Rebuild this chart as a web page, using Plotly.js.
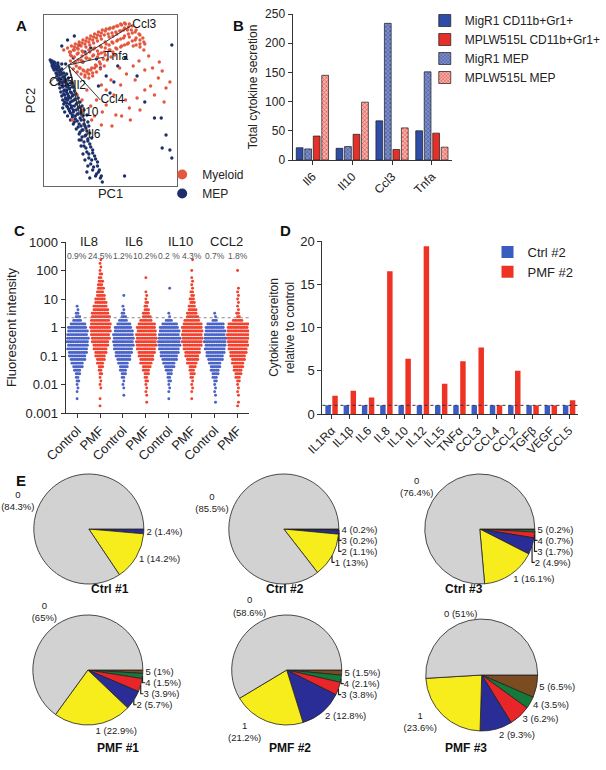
<!DOCTYPE html>
<html>
<head>
<meta charset="utf-8">
<script src="https://cdn.plot.ly/plotly-3.0.1.min.js"></script>
<style>
  html, body { margin: 0; padding: 0; background: #fff; }
  #chart { width: 606px; height: 770px; }
</style>
</head>
<body>
<div id="chart"></div>
<script>
// ---- Panel A: PCA scores [PC1, PC2] (arbitrary units) ----
const myeloidScores = [
  [20,136],[24,138],[28,140],[32,142],[36,144],[40,146],[44,148],[48,150],[52,152],[56,154],[60,156],[64,157],[68,158],[72,159],[76,160],[80,161],[84,162],[88,162],
  [26,134],[30,136],[34,138],[38,140],[42,142],[46,144],[50,146],[54,148],[58,150],[62,151],[66,152],[70,153],[74,154],[78,155],[82,156],[86,156],[90,156],[94,154],[98,152],[102,148],[104,142],
  [28,130],[34,132],[40,134],[46,136],[52,138],[58,140],[64,142],[70,144],[76,146],[82,148],[88,149],[94,146],[99,142],
  [32,124],[38,126],[44,128],[50,130],[56,132],[62,134],[68,136],[74,138],[80,140],[86,142],[92,140],
  [27,125],[27,131],[27,134],[31,123],[31,129],[31,136],[31,139],[35,126],[35,133],[35,137],[35,141],[39,124],[39,130],[39,135],[39,143],
  [43,128],[43,132],[43,139],[43,145],[47,127],[47,134],[47,141],[47,147],[51,131],[51,137],[51,143],[51,149],[55,129],[55,135],[55,145],[55,151],
  [59,133],[59,139],[59,147],[59,153],[63,131],[63,138],[63,144],[63,155],[67,136],[67,141],[67,149],[67,157],[71,134],[71,143],[71,150],[71,158],
  [75,137],[75,145],[75,152],[75,160],[79,139],[79,147],[79,155],[79,162],[83,141],[83,150],[83,158],[83,163],[87,143],[87,152],[87,159],
  [91,145],[91,153],[91,160],[95,141],[95,148],[95,156],[99,139],[99,146],[99,151],[103,136],[103,144],
  [30,117],[34,114],[38,112],[42,109],[46,108],[50,110],[54,114],[58,117],[62,120],[33,120],[37,118],[41,115],[45,116],[49,118],[53,121],[57,124],[61,127],[65,126],[69,129],[73,131],
  [36,118],[40,116],[44,114],[48,116],[52,118],[42,111],[46,112],[50,113],[54,120],[58,122],
  [119,124],[126,98],[114,91],[99,76],[84,86],[74,71],[64,81],[54,86],[49,66],[59,61],[39,86],[44,96],[94,106],[104,116],[79,101],[69,106],[64,96],[59,101],[34,91],[39,76],[29,66],[89,66],[104,96],[72,91],
  [78,118],[85,112],[92,120],[98,125],[108,130],[112,118],[118,108],[122,115],[96,88],[88,78],[70,60],[80,70],[60,74],[52,70],[48,80],[110,100],[130,104],[124,84]
];
const mepScores = [
  [6,126],[7,124],[8,125],[9,122],[8,120],[10,121],[11,118],[12,120],[10,116],[13,116],[14,118],[12,113],[15,114],[16,116],[13,110],[16,111],[18,112],[14,106],[17,107],[19,109],[21,110],
  [15,102],[18,103],[20,104],[22,106],[16,98],[19,99],[22,100],[24,102],[17,94],[20,95],[23,96],[26,98],[18,90],[21,91],[24,92],[27,94],[19,86],[22,87],[25,88],[29,90],
  [20,82],[23,83],[27,84],[31,86],[19,78],[24,79],[28,80],[33,82],[21,74],[26,75],[30,76],[35,78],[24,70],[29,71],[34,72],[38,73],[27,66],[32,67],[37,68],[41,66],
  [30,62],[36,62],[42,60],[33,57],[39,56],[44,55],[36,52],[42,50],[38,46],[45,47],[41,40],[47,42],[44,34],[50,36],[46,28],[52,30],[48,22],[55,24],[50,16],[56,14],[53,10],[58,8],[60,4],[47,8],[44,14],
  [8,122],[9,118],[11,123],[12,117],[14,121],[13,112],[15,119],[17,114],[15,108],[18,117],[20,113],[17,104],[21,107],[23,112],[19,100],[22,104],[25,108],[21,96],[24,99],[27,103],
  [20,92],[23,94],[26,97],[29,99],[22,88],[25,90],[28,93],[31,95],[21,84],[24,86],[27,88],[30,91],[33,92],[23,80],[26,82],[29,85],[32,87],[35,88],[25,77],[28,78],[31,80],[34,83],[37,84],
  [27,73],[30,74],[33,76],[36,79],[39,80],[29,69],[32,70],[35,72],[38,75],[41,76],[31,64],[34,65],[38,66],[40,70],[44,71],[35,59],[38,60],[41,62],[45,64],[37,54],[40,56],[43,58],[46,60],
  [39,49],[43,51],[47,53],[41,44],[45,45],[49,48],[43,38],[48,39],[46,32],[50,33],[49,26],[53,27],[51,19],[55,20],[54,12],[57,16],[59,10],[45,20],[42,26],[40,32],[38,40],[36,46],
  [10,124],[14,123],[18,122],[22,122],[18,140],[24,146],[31,150],[36,141],[42,134],[48,138],[54,127],[58,118],[64,110],[56,100],[68,93],[72,104],[76,120],[84,128],[30,128],[40,124],
  [132,141],[114,68],[121,68],[126,51],[122,38],[130,36],[132,28],[83,10],[96,110],[104,84]
];
const loadNames = ['Ccl3', 'Tnfa', 'Ccl4', 'Il10', 'Il6', 'Ccl5', 'Il2'];
const loadPC1 = [91, 62, 58, 36, 45, 5, 30];
const loadPC2 = [161, 129, 86, 73, 51, 103, 100];
const loadOrigin = [25, 121];

// ---- Panel B: total cytokine secretion ----
const cytokinesB = ['Il6', 'Il10', 'Ccl3', 'Tnfa'];
const migr1Myeloid = [21, 20, 67, 50];
const migr1Mep = [19, 23, 234, 151];
const mplMyeloid = [41, 44, 18, 46];
const mplMep = [145, 99, 55, 22];

// ---- Panel C: cells per 1/8-decade bin, first bin = 0.001 ----
const swarmCytokines = ['IL8', 'IL6', 'IL10', 'CCL2'];
const swarmGroups = ['Control', 'PMF', 'Control', 'PMF', 'Control', 'PMF', 'Control', 'PMF'];
const pctAbove = ['0.9%', '24.5%', '1.2%', '10.2%', '0.2 %', '4.3%', '0.7%', '1.8%'];
const il8Ctrl  = [0,0,0,0,1,0,1,1, 1,2,2,3,4,6,7,9, 10,11,12,12,13,13,12,12, 11,9,5,3,2,1,1,0];
const il8Pmf   = [0,0,1,0,1,0,0,1, 1,1,1,2,2,3,4,5, 6,7,8,9,10,11,11,12, 12,12,11,11,10,9,8,7, 6,5,4,4,3,3,2,2, 1,1,1,1];
const il6Ctrl  = [0,0,0,0,0,1,0,1, 1,1,2,3,4,5,6,8, 9,10,11,12,12,12,12,11, 10,8,5,3,2,1,1,0, 0,1];
const il6Pmf   = [0,0,0,1,0,1,1,1, 1,2,2,3,4,5,7,8, 9,10,11,12,12,12,12,11, 11,10,7,5,4,3,2,2, 1,1,1,0,0,0,1];
const il10Ctrl = [0,0,0,0,1,0,1,1, 1,2,2,3,4,6,7,9, 10,11,12,13,13,13,12,12, 11,9,4,1,1,0,0,0, 0,0,0,1];
const il10Pmf  = [0,0,0,0,1,0,1,1, 1,1,2,3,3,4,6,7, 8,9,10,11,12,12,12,12, 12,11,9,7,6,5,4,3, 3,2,2,1,1,1,1,0, 1,0,0,1];
const ccl2Ctrl = [0,0,0,1,0,1,1,1, 1,2,3,4,5,6,7,9, 10,11,12,12,13,13,12,12, 11,10,3,1,1];
const ccl2Pmf  = [0,0,1,1,0,1,1,1, 1,2,3,4,5,6,7,8, 9,10,11,12,12,13,13,13, 12,12,6,2,2,1,1,1, 1,1,1,1,0,0,0,0, 1];
const positiveCut = 2.2;

// ---- Panel D: secretion relative to control ----
const cytokinesD = ['IL1R\u03b1', 'IL1\u03b2', 'IL6', 'IL8', 'IL10', 'IL12', 'IL15', 'TNF\u03b1', 'CCL3', 'CCL4', 'CCL2', 'TGF\u03b2', 'VEGF', 'CCL5'];
const ctrl2Rel = [1, 1, 1, 1, 1, 1, 1, 1, 1, 1, 1, 1, 1, 1];
const pmf2Rel = [2.1, 2.7, 1.9, 16.5, 6.4, 19.4, 3.5, 6.1, 7.7, 1.0, 5.0, 1.0, 1.0, 1.6];

// ---- Panel E: % of cells secreting n cytokines ----
const nSecreted = ['0', '1', '2', '3', '4', '5'];
const pieNames = ['Ctrl #1', 'Ctrl #2', 'Ctrl #3', 'PMF #1', 'PMF #2', 'PMF #3'];
const ctrl1Pct = [84.3, 14.2, 1.4];
const ctrl2Pct = [85.5, 13, 1.1, 0.2, 0.2];
const ctrl3Pct = [76.4, 16.1, 4.9, 1.7, 0.7, 0.2];
const pmf1Pct = [65, 22.9, 5.7, 3.9, 1.5, 1];
const pmf2Pct = [58.6, 21.2, 12.8, 3.8, 2.1, 1.5];
const pmf3Pct = [51, 23.6, 9.3, 6.2, 3.5, 6.5];

// ---------------- layout helpers ----------------
const W = 606, H = 770;
const px = p => p / W;
const py = p => 1 - p / H;
const FONT = 'Liberation Sans, Arial, Helvetica, sans-serif';
const red = '#e4573f', navy = '#1d2f6b';
const axisCol = '#333';

const traces = [];

// Panel A
traces.push({
  type: 'scatter', mode: 'markers', x: mepScores.map(d => d[0]), y: mepScores.map(d => d[1]),
  xaxis: 'x', yaxis: 'y', marker: { size: 3.4, color: navy }, showlegend: false, hoverinfo: 'skip'
});
traces.push({
  type: 'scatter', mode: 'markers', x: myeloidScores.map(d => d[0]), y: myeloidScores.map(d => d[1]),
  xaxis: 'x', yaxis: 'y', marker: { size: 3.4, color: red }, showlegend: false, hoverinfo: 'skip'
});
const lx = [], ly = [];
loadNames.forEach((n, i) => {
  lx.push(loadOrigin[0], loadPC1[i], null);
  ly.push(loadOrigin[1], loadPC2[i], null);
});
traces.push({
  type: 'scatter', mode: 'lines', x: lx, y: ly, xaxis: 'x', yaxis: 'y',
  line: { color: '#333', width: 1 }, showlegend: false, hoverinfo: 'skip'
});
traces.push({
  type: 'scatter', mode: 'text', x: loadPC1, y: loadPC2, text: loadNames, xaxis: 'x', yaxis: 'y',
  textposition: 'middle right', textfont: { size: 12, color: '#111' }, showlegend: false, hoverinfo: 'skip'
});
// legend-only entries
[['Myeloid', red], ['MEP', navy]].forEach(([name, c]) => {
  traces.push({
    type: 'scatter', mode: 'markers', x: [null], y: [null], xaxis: 'x', yaxis: 'y',
    name: name, marker: { size: 10, color: c }, legend: 'legend'
  });
});

// Panel B
const barW = 0.17;
const bSeries = [
  { name: 'MigR1 CD11b+Gr1+', y: migr1Myeloid, c: '#2f4da6', rank: 1, pat: null },
  { name: 'MigR1 MEP', y: migr1Mep, c: '#7f8fc9', rank: 3, pat: '#3a4f9e' },
  { name: 'MPLW515L CD11b+Gr1+', y: mplMyeloid, c: '#e5302a', rank: 2, pat: null },
  { name: 'MPLW515L MEP', y: mplMep, c: '#f7b3ad', rank: 4, pat: '#e2433b' }
];
const bCenters = [-0.32, -0.107, 0.107, 0.32];
bSeries.forEach((s, i) => {
  const marker = { color: s.c, line: { color: '#1a1a1a', width: 0.7 } };
  if (s.pat) marker.pattern = { shape: 'x', size: 3, solidity: 0.35, fgcolor: s.pat, bgcolor: s.c };
  traces.push({
    type: 'bar', x: cytokinesB, y: s.y, name: s.name, xaxis: 'x2', yaxis: 'y2',
    width: barW, offset: bCenters[i] - barW / 2, marker: marker,
    legend: 'legend2', legendrank: s.rank
  });
});

// Panel C: beeswarm columns
const swarmCounts = [il8Ctrl, il8Pmf, il6Ctrl, il6Pmf, il10Ctrl, il10Pmf, ccl2Ctrl, ccl2Pmf];
const binStep = 1 / 8, logMin = -3, swarmDx = 0.075;
swarmCounts.forEach((counts, c) => {
  const xs = [], ys = [];
  counts.forEach((n, i) => {
    const v = Math.pow(10, logMin + i * binStep);
    const shift = (i % 2) ? swarmDx / 2 : 0;
    for (let k = 0; k < n; k++) {
      xs.push(c + (k - (n - 1) / 2) * swarmDx + shift);
      ys.push(v);
    }
  });
  traces.push({
    type: 'scatter', mode: 'markers', x: xs, y: ys, xaxis: 'x3', yaxis: 'y3',
    marker: { size: 2.9, color: c % 2 ? '#f2412d' : '#4a63c8' }, showlegend: false, hoverinfo: 'y'
  });
});

// Panel D
const dW = 0.3;
[['Ctrl #2', ctrl2Rel, '#3a5bbf', -0.19], ['PMF #2', pmf2Rel, '#ee3224', 0.19]].forEach(([name, y, c, off]) => {
  traces.push({
    type: 'bar', x: cytokinesD, y: y, name: name, xaxis: 'x4', yaxis: 'y4',
    width: dW, offset: off - dW / 2, marker: { color: c }, legend: 'legend3'
  });
});

// Panel E: pies, drawn clockwise from 3 o'clock starting with the last class
const pieVals = [ctrl1Pct, ctrl2Pct, ctrl3Pct, pmf1Pct, pmf2Pct, pmf3Pct];
const pieCenters = [[92, 529, 57], [294, 529, 57], [497, 529, 57], [91, 670, 57], [297, 670, 57], [499, 675, 58]];
const pieBreaks = [[0], [0], [0], [0], [0, 1], [1]];
const pieTitlePos = [[92, 598], [295, 598], [502, 598], [98, 757], [300, 757], [507, 757]];
const sliceColors = ['#d2d2d2', '#f7ec1c', '#2a2d96', '#e8262a', '#15793a', '#7b4b22'];
pieVals.forEach((vals, p) => {
  const [cx, cy, r] = pieCenters[p];
  const labels = nSecreted.slice(0, vals.length);
  const text = vals.map((v, i) => labels[i] + (pieBreaks[p].includes(i) ? '<br>' : ' ') + '(' + v + '%)');
  const rev = a => a.slice().reverse();
  traces.push({
    type: 'pie', values: rev(vals), labels: rev(labels), text: rev(text), textinfo: 'text',
    textposition: 'outside', outsidetextfont: { size: 9.5, color: '#222' },
    sort: false, direction: 'clockwise', rotation: 90,
    marker: { colors: rev(sliceColors.slice(0, vals.length)), line: { color: '#222', width: 0.8 } },
    domain: { x: [px(cx - r), px(cx + r)], y: [py(cy + r), py(cy - r)] },
    showlegend: false, hoverinfo: 'label+value', automargin: false
  });
});

// ---------------- annotations ----------------
const ann = [];
const panelLetter = (t, x, y) => ann.push({
  text: '<b>' + t + '</b>', xref: 'paper', yref: 'paper', x: px(x), y: py(y),
  showarrow: false, font: { size: 15, color: '#111' }
});
panelLetter('A', 14, 15); panelLetter('B', 247, 15); panelLetter('C', 12, 220);
panelLetter('D', 296, 220); panelLetter('E', 14, 480);

swarmCytokines.forEach((n, i) => ann.push({
  text: n, xref: 'x3', yref: 'paper', x: 2 * i + 0.5, y: py(232),
  showarrow: false, font: { size: 13, color: '#222' }
}));
pctAbove.forEach((t, i) => ann.push({
  text: t, xref: 'x3', yref: 'paper', x: i, y: py(249),
  showarrow: false, font: { size: 8.5, color: '#555' }
}));
pieNames.forEach((t, i) => ann.push({
  text: '<b>' + t + '</b>', xref: 'paper', yref: 'paper',
  x: px(pieTitlePos[i][0]), y: py(pieTitlePos[i][1]),
  showarrow: false, font: { size: 12, color: '#111' }
}));

const baseAxis = {
  showline: true, linecolor: axisCol, linewidth: 1, showgrid: false, zeroline: false,
  ticks: 'outside', ticklen: 4, tickcolor: axisCol, fixedrange: true
};

const layout = {
  width: W, height: H,
  margin: { l: 0, r: 0, t: 0, b: 0 },
  paper_bgcolor: '#fff', plot_bgcolor: 'rgba(0,0,0,0)',
  font: { family: FONT, color: '#222', size: 12 },
  barmode: 'overlay',
  xaxis: Object.assign({}, baseAxis, {
    domain: [px(46), px(183)], range: [0, 137], mirror: true, ticks: '', showticklabels: false,
    linecolor: '#666', title: { text: 'PC1', font: { size: 13 }, standoff: 2 }
  }),
  yaxis: Object.assign({}, baseAxis, {
    domain: [py(186), py(15)], range: [0, 171], mirror: true, ticks: '', showticklabels: false,
    linecolor: '#666', title: { text: 'PC2', font: { size: 13 }, standoff: 4 }
  }),
  xaxis2: Object.assign({}, baseAxis, {
    domain: [px(303), px(468)], type: 'category', range: [-0.5, 3.5], anchor: 'y2',
    tickangle: -45, tickfont: { size: 12 }
  }),
  yaxis2: Object.assign({}, baseAxis, {
    domain: [py(160), py(14)], range: [0, 250], dtick: 50, anchor: 'x2',
    tickfont: { size: 12 }, title: { text: 'Total cytokine secretion', font: { size: 12 }, standoff: 4 }
  }),
  xaxis3: Object.assign({}, baseAxis, {
    domain: [px(68), px(258)], range: [-0.5, 7.5], anchor: 'y3',
    tickvals: swarmGroups.map((g, i) => i), ticktext: swarmGroups,
    tickangle: -45, tickfont: { size: 13 }
  }),
  yaxis3: Object.assign({}, baseAxis, {
    domain: [py(413), py(242)], type: 'log', range: [-3, 3], anchor: 'x3',
    tickvals: [0.001, 0.01, 0.1, 1, 10, 100, 1000],
    ticktext: ['0.001', '0.01', '0.1', '1', '10', '100', '1000'],
    tickfont: { size: 13 }, title: { text: 'Fluorescent intensity', font: { size: 13 }, standoff: 5 }
  }),
  xaxis4: Object.assign({}, baseAxis, {
    domain: [px(334), px(599)], type: 'category', range: [-0.5, 13.5], anchor: 'y4',
    tickangle: -45, tickfont: { size: 12 }
  }),
  yaxis4: Object.assign({}, baseAxis, {
    domain: [py(414), py(241)], range: [0, 20], dtick: 5, anchor: 'x4',
    tickfont: { size: 13 },
    title: { text: 'Cytokine secreiton<br>relative to control', font: { size: 12 }, standoff: 3 }
  }),
  shapes: [
    { type: 'line', xref: 'x3 domain', yref: 'y3', x0: 0, x1: 1, y0: positiveCut, y1: positiveCut,
      line: { color: '#888', width: 1, dash: 'dot' } },
    { type: 'line', xref: 'x4 domain', yref: 'y4', x0: 0, x1: 1, y0: 1, y1: 1,
      line: { color: '#334', width: 1, dash: 'dot' } }
  ],
  annotations: ann,
  legend: {
    x: px(168), y: py(160), xanchor: 'left', yanchor: 'top',
    font: { size: 12 }, bgcolor: 'rgba(0,0,0,0)'
  },
  legend2: {
    x: px(440), y: py(6), xanchor: 'left', yanchor: 'top',
    font: { size: 12 }, bgcolor: 'rgba(0,0,0,0)', traceorder: 'normal'
  },
  legend3: {
    x: px(505), y: py(237), xanchor: 'left', yanchor: 'top',
    font: { size: 13 }, bgcolor: 'rgba(0,0,0,0)'
  }
};

Plotly.newPlot('chart', traces, layout, { displayModeBar: false, staticPlot: true });
</script>
</body>
</html>
